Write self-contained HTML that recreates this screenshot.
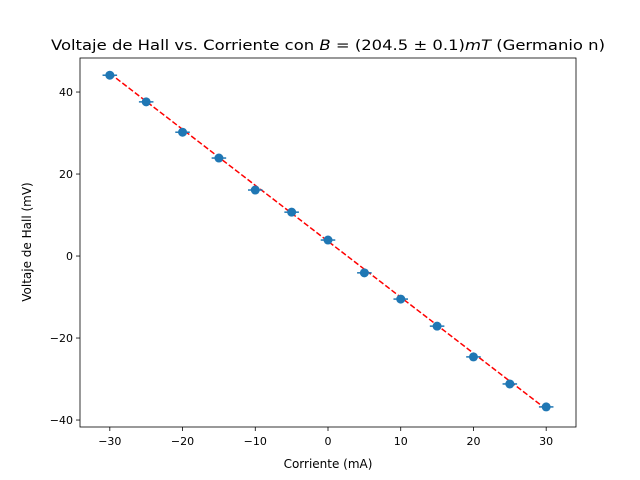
<!DOCTYPE html>
<html><head><meta charset="utf-8"><style>body{margin:0;background:#fff}svg{display:block;font-family:"DejaVu Sans","Liberation Sans",sans-serif}</style></head>
<body>
<svg id="chart" width="640" height="480" viewBox="0 0 640 480">
<rect width="640" height="480" fill="#fff"/>
<text x="328" y="50" font-size="14.2" text-anchor="middle" textLength="554" lengthAdjust="spacingAndGlyphs">Voltaje de Hall vs. Corriente con <tspan font-style="italic">B</tspan> = (204.5 ± 0.1)<tspan font-style="italic">mT</tspan> (Germanio n)</text>
<g id="plot"></g>
<rect x="80" y="58" width="496" height="369" fill="none" stroke="#000" stroke-width="0.8"/>
<text x="328" y="468" font-size="12" text-anchor="middle">Corriente (mA)</text>
<text transform="translate(31,242) rotate(-90)" font-size="12" text-anchor="middle">Voltaje de Hall (mV)</text>
</svg>
<script>
const currents=[-30,-25,-20,-15,-10,-5,0,5,10,15,20,25,30];
const voltages=[44.1,37.6,30.2,23.9,16.1,10.7,3.9,-4.1,-10.5,-17.1,-24.6,-31.2,-36.8];
const xErr=[1,1,1,1,1,1,1,1,1,1,1,1,1];
const fitSlope=-1.365;
const fitIntercept=3.6;
const xTicks=[-30,-20,-10,0,10,20,30];
const yTicks=[-40,-20,0,20,40];
const X0=80,X1=576,Y0=427,Y1=58,xmin=-34.1,xmax=34.1,ymin=-41.7,ymax=48.3;
const sx=v=>X0+(v-xmin)/(xmax-xmin)*(X1-X0);
const sy=v=>Y0-(v-ymin)/(ymax-ymin)*(Y0-Y1);
const NS="http://www.w3.org/2000/svg";
const g=document.getElementById('plot');
function mk(t,a){const e=document.createElementNS(NS,t);for(const k in a)e.setAttribute(k,a[k]);g.appendChild(e);return e;}
xTicks.forEach(t=>{
 const l=mk('line',{x1:sx(t),x2:sx(t),y1:Y0,y2:Y0+4,stroke:'#000','stroke-width':0.8});
 
 
 const tx=mk('text',{x:sx(t),y:Y0+18,'font-size':11,'text-anchor':'middle'});
 tx.textContent=(t<0?'\u2212':'')+Math.abs(t);
 
 
});
yTicks.forEach(t=>{
 const l=mk('line',{x1:X0-4,x2:X0,y1:sy(t),y2:sy(t),stroke:'#000','stroke-width':0.8});
 
 
 const tx=mk('text',{x:X0-7,y:sy(t)+4,'font-size':11,'text-anchor':'end'});
 tx.textContent=(t<0?'\u2212':'')+Math.abs(t);
 
 
});
const xa=currents[0],xb=currents[currents.length-1];
const fit=mk('line',{x1:sx(xa),y1:sy(fitSlope*xa+fitIntercept),x2:sx(xb),y2:sy(fitSlope*xb+fitIntercept),stroke:'#ff0000','stroke-width':1.5,'stroke-dasharray':'5.5,2.4'});


currents.forEach((c,i)=>{
 const e=mk('line',{x1:sx(c-xErr[i]),x2:sx(c+xErr[i]),y1:sy(voltages[i]),y2:sy(voltages[i]),stroke:'#1f77b4','stroke-width':1.5});
 
 
 const p=mk('circle',{cx:sx(c),cy:sy(voltages[i]),r:4.5,fill:'#1f77b4'});
 
 
});
</script>
</body></html>
